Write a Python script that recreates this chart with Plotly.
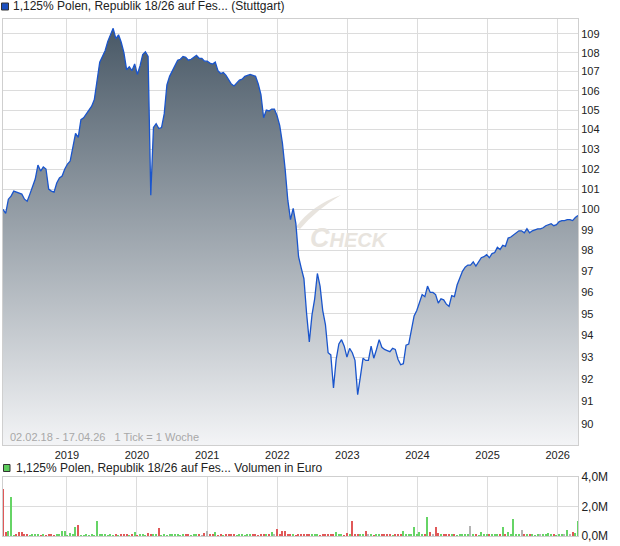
import numpy as np
import pandas as pd
import plotly.graph_objects as go

# ---------------- data ----------------
dates = pd.date_range("2018-02-02", periods=215, freq="14D")

price = [
    100.0, 99.8, 100.5, 100.65, 100.9, 100.85, 100.8, 100.75, 100.5, 100.4,
    100.75, 101.1, 101.5, 102.2, 101.9, 102.1, 102.0, 101.0, 100.9, 100.85,
    101.3, 101.55, 101.65, 102.0, 102.25, 102.4, 103.2, 103.8, 103.6, 104.5,
    104.6, 104.8, 105.0, 105.2, 105.55, 106.4, 107.5, 107.8, 108.1, 108.6,
    109.0, 109.3, 108.75, 108.95, 108.55, 108.0, 107.1, 107.25, 107.05, 107.4,
    106.85, 107.3, 107.9, 108.05, 107.8, 100.7, 104.1, 104.3, 104.05, 104.1,
    104.8, 106.3, 106.75, 107.05, 107.3, 107.6, 107.65, 107.8, 107.75, 107.6,
    107.65, 107.75, 107.85, 107.7, 107.7, 107.55, 107.55, 107.45, 107.4, 107.5,
    107.05, 106.9, 106.95, 106.8, 106.55, 106.35, 106.25, 106.4, 106.55, 106.6,
    106.75, 106.8, 106.85, 106.8, 106.75, 106.35, 105.8, 104.6, 105.0, 104.95,
    105.05, 105.05, 104.7, 104.2, 103.3, 102.0, 100.45, 99.5, 100.05, 99.3,
    97.7, 97.15, 96.65, 95.0, 93.7, 94.95, 95.7, 96.9, 96.3, 95.15,
    94.5, 93.2, 93.1, 91.6, 92.9, 93.6, 93.8, 93.5, 93.0, 93.4,
    93.2, 92.85, 91.3, 92.1, 92.95, 92.85, 92.85, 93.5, 92.95, 93.35,
    93.8, 93.45, 93.35, 93.3, 93.25, 93.4, 93.35, 92.9, 92.65, 92.7,
    93.55, 93.6, 94.2, 94.9, 95.15, 95.5, 95.9, 95.8, 96.3, 96.0,
    96.0, 95.9, 95.5, 95.7, 95.65, 95.45, 95.35, 95.85, 95.8, 96.35,
    96.7, 97.0, 97.2, 97.3, 97.3, 97.45, 97.25, 97.45, 97.65, 97.7,
    97.8, 97.65, 97.85, 97.9, 98.15, 98.05, 98.25, 98.2, 98.6, 98.65,
    98.75, 98.85, 98.95, 98.95, 98.85, 99.05, 98.85, 98.95, 99.0, 99.05,
    99.05, 99.1, 99.2, 99.25, 99.3, 99.2, 99.25, 99.4, 99.45, 99.45,
    99.5, 99.5, 99.45, 99.6, 99.7,
]

volume_m = [
    3.16, 0.30, 0.35, 2.67, 0.06, 0.10, 0.28, 0.25, 0.12, 0.08,
    0.05, 0.10, 0.07, 0.12, 0.06, 0.09, 0.04, 0.11, 0.08, 0.05,
    0.07, 0.12, 0.33, 0.35, 0.05, 0.18, 0.10, 0.58, 0.77, 0.06,
    0.04, 0.08, 0.05, 0.10, 0.06, 1.05, 0.07, 0.09, 0.12, 0.05,
    0.08, 0.06, 0.11, 0.05, 0.09, 0.12, 0.07, 0.05, 0.14, 0.30,
    0.06, 0.10, 0.08, 0.05, 0.22, 0.07, 0.09, 0.12, 0.56, 0.06,
    0.08, 0.05, 0.11, 0.07, 0.14, 0.09, 0.06, 0.10, 0.08, 0.12,
    0.05, 0.09, 0.07, 0.11, 0.06, 0.22, 0.35, 0.08, 0.10, 0.30,
    0.06, 0.09, 0.05, 0.12, 0.08, 0.07, 0.10, 0.06, 0.11, 0.09,
    0.05, 0.08, 0.12, 0.07, 0.15, 0.06, 0.10, 0.08, 0.13, 0.07,
    0.30, 0.09, 0.49, 0.12, 0.37, 0.35, 0.10, 0.08, 0.14, 0.06,
    0.12, 0.09, 0.16, 0.07, 0.11, 0.14, 0.08, 0.12, 0.06, 0.10,
    0.09, 0.13, 0.07, 0.11, 0.30, 0.08, 0.12, 0.06, 0.20, 0.09,
    1.00, 0.10, 0.14, 0.07, 0.12, 0.35, 0.09, 0.11, 0.06, 0.13,
    0.08, 0.12, 0.07, 0.10, 0.14, 0.06, 0.11, 0.09, 0.13, 0.37,
    0.08, 0.12, 0.07, 0.58, 0.10, 0.30, 0.09, 0.14, 1.28, 0.28,
    0.10, 0.58, 0.22, 0.08, 0.12, 0.07, 0.11, 0.09, 0.13, 0.06,
    0.10, 0.08, 0.12, 0.07, 0.65, 0.09, 0.11, 0.06, 0.30, 0.10,
    0.08, 0.12, 0.07, 0.11, 0.09, 0.13, 0.58, 0.08, 0.30, 0.10,
    1.12, 0.09, 0.12, 0.42, 0.07, 0.11, 0.08, 0.10, 0.06, 0.09,
    0.12, 0.07, 0.10, 0.20, 0.08, 0.11, 0.06, 0.09, 0.07, 0.10,
    0.42, 0.12, 0.25, 0.18, 1.00,
]

year_ticks = ["2019-01-01", "2020-01-01", "2021-01-01", "2022-01-01",
              "2023-01-01", "2024-01-01", "2025-01-01", "2026-01-01"]
year_labels = ["2019", "2020", "2021", "2022", "2023", "2024", "2025", "2026"]
price_ticks = list(range(90, 110))
price_labels = [str(v) for v in price_ticks]
vol_ticks = [0, 2, 4]
vol_labels = ["0,0M", "2,0M", "4,0M"]

title_main = "1,125% Polen, Republik 18/26 auf Fes... (Stuttgart)"
title_vol = "1,125% Polen, Republik 18/26 auf Fes... Volumen in Euro"
period_text = "02.02.18 - 17.04.26&nbsp;&nbsp;&nbsp;1 Tick = 1 Woche"

# ---------------- style ----------------
FONT = "Liberation Sans, Arial, sans-serif"
GRID = "#dcdcdc"
FRAME = "#cfcfcf"
LINE = "#1a55cc"
UP, DOWN, FLAT = "#66d466", "#e05858", "#b4b4b4"

W, H = 620, 546
ML, MR, MT, MB = 3, 42, 19, 10
PW, PH = W - ML - MR, H - MT - MB
def px(x):
    return (x - ML) / PW
def py(y):
    return (H - MB - y) / PH

main_bottom = py(445)
vol_top = py(477)

y_lo, y_hi = 89.07, 109.8

price_s = pd.Series(price)
chg = np.sign(price_s.diff().fillna(-1))
bar_colors = [UP if c > 0 else (DOWN if c < 0 else FLAT) for c in chg]

fig = go.Figure()

# baseline for the area fill
fig.add_trace(go.Scatter(x=dates, y=[85.0] * len(dates), mode="lines",
                         line=dict(width=0, color="rgba(0,0,0,0)"),
                         hoverinfo="skip", showlegend=False,
                         xaxis="x", yaxis="y"))
fig.add_trace(go.Scatter(
    x=dates, y=price, mode="lines",
    line=dict(color=LINE, width=1.3),
    fill="tonexty",
    fillgradient=dict(type="vertical", start=y_lo, stop=y_hi,
                      colorscale=[[0, "#f3f4f6"], [1, "#455563"]]),
    showlegend=False, xaxis="x", yaxis="y"))

fig.add_trace(go.Bar(x=dates, y=volume_m, marker=dict(color=bar_colors, line=dict(width=0)),
                     width=6 * 86400000, showlegend=False,
                     xaxis="x2", yaxis="y2"))

xr = ["2018-02-02", "2026-04-17"]
axis_common = dict(showline=True, mirror=True, linecolor=FRAME, linewidth=1,
                   gridcolor=GRID, gridwidth=1, zeroline=False, ticks="")

fig.update_layout(
    width=W, height=H,
    margin=dict(l=ML, r=MR, t=MT, b=MB),
    paper_bgcolor="white", plot_bgcolor="white",
    font=dict(family=FONT, size=11, color="#222222"),
    bargap=0,
    xaxis=dict(type="date", range=xr, domain=[0, 1], anchor="y",
               tickvals=year_ticks, ticktext=year_labels,
               tickfont=dict(size=11, color="#222222"), **axis_common),
    yaxis=dict(type="log", range=[np.log10(y_lo), np.log10(y_hi)],
               domain=[main_bottom, 1], side="right", anchor="x",
               tickvals=price_ticks, ticktext=price_labels,
               tickfont=dict(size=11, color="#222222"), **axis_common),
    xaxis2=dict(type="date", range=xr, domain=[0, 1], anchor="y2",
                tickvals=year_ticks, showticklabels=False, **axis_common),
    yaxis2=dict(range=[0, 4], domain=[0, vol_top], side="right", anchor="x2",
                tickvals=vol_ticks, ticktext=vol_labels,
                tickfont=dict(size=12, color="#222222"), **axis_common),
)

# watermark
fig.add_shape(type="path", xref="paper", yref="paper", layer="below",
              path=(f"M {px(296)},{py(227)} Q {px(312)},{py(205)} {px(341)},{py(195)} "
                    f"Q {px(316)},{py(210)} {px(300)},{py(229)} Z"),
              fillcolor="#e8e4de", line=dict(width=0))
fig.add_annotation(xref="paper", yref="paper", x=px(349), y=py(238),
                   text="<span style='font-size:27px'>C</span>HECK",
                   showarrow=False, xanchor="center", yanchor="middle",
                   font=dict(family=FONT, size=20, color="#e8e4de", weight="bold",
                             style="italic"))

# period text inside the plot
fig.add_annotation(xref="paper", yref="paper", x=px(8), y=py(437),
                   text=period_text, showarrow=False, xanchor="left", yanchor="middle",
                   font=dict(family=FONT, size=11, color="#a8a8a8"))

# legends
fig.add_shape(type="rect", xref="paper", yref="paper",
              x0=px(1.5), x1=px(8.5), y0=py(10), y1=py(3),
              fillcolor="#1a4fc0", line=dict(color="#333333", width=1))
fig.add_annotation(xref="paper", yref="paper", x=px(11), y=py(6.5),
                   text=title_main, showarrow=False, xanchor="left", yanchor="middle",
                   font=dict(family=FONT, size=12, color="#222222"))
fig.add_shape(type="rect", xref="paper", yref="paper",
              x0=px(3.5), x1=px(10), y0=py(471.5), y1=py(464.5),
              fillcolor="#5ccc5c", line=dict(color="#333333", width=1))
fig.add_annotation(xref="paper", yref="paper", x=px(14), y=py(468),
                   text=title_vol, showarrow=False, xanchor="left", yanchor="middle",
                   font=dict(family=FONT, size=12, color="#222222"))

fig.write_html("out.html",
               config={"displayModeBar": False},
               post_script="document.body.style.margin='0';document.body.style.padding='0';")
